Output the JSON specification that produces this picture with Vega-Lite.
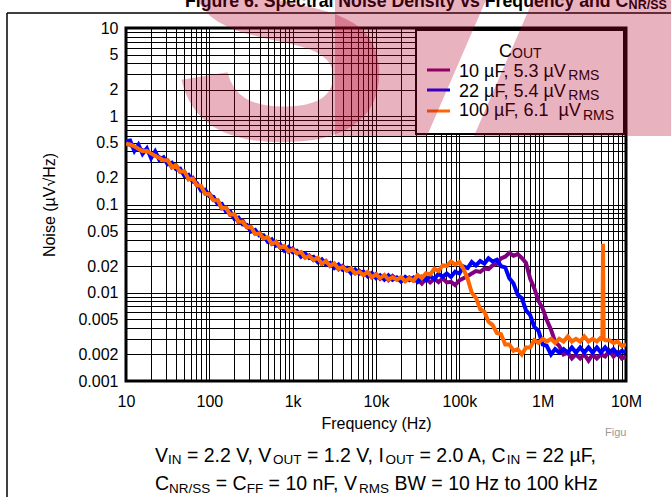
{
"$schema":"https://vega.github.io/schema/vega-lite/v6.json",
"width":500,"height":353,
"autosize":{"type":"none"},
"padding":{"left":126,"top":28,"right":45,"bottom":116},
"background":"white",
"config":{"view":{"stroke":"#000","strokeWidth":3},"font":"Liberation Sans"},
"datasets":{
"p":[{"f":10,"v":0.49},{"f":11.2,"v":0.475},{"f":12.6,"v":0.443},{"f":14.1,"v":0.423},{"f":15.8,"v":0.413},{"f":17.8,"v":0.407},{"f":20,"v":0.367},{"f":22.4,"v":0.361},{"f":25.1,"v":0.343},{"f":28.2,"v":0.317},
{"f":31.6,"v":0.315},{"f":35.5,"v":0.263},{"f":39.8,"v":0.278},{"f":44.7,"v":0.233},{"f":50.1,"v":0.232},{"f":56.2,"v":0.193},{"f":63.1,"v":0.201},{"f":70.8,"v":0.165},{"f":79.4,"v":0.158},{"f":89.1,"v":0.133},
{"f":100,"v":0.133},{"f":112,"v":0.112},{"f":126,"v":0.111},{"f":141,"v":0.0902},{"f":158,"v":0.0924},{"f":178,"v":0.076},{"f":200,"v":0.0752},{"f":224,"v":0.063},{"f":251,"v":0.0657},{"f":282,"v":0.0553},
{"f":316,"v":0.0541},{"f":355,"v":0.0466},{"f":398,"v":0.0478},{"f":447,"v":0.0413},{"f":501,"v":0.042},{"f":562,"v":0.0357},{"f":631,"v":0.0378},{"f":708,"v":0.0323},{"f":794,"v":0.033},{"f":891,"v":0.0291},
{"f":1000,"v":0.0318},{"f":1120,"v":0.0281},{"f":1260,"v":0.0281},{"f":1410,"v":0.0252},{"f":1580,"v":0.0265},{"f":1780,"v":0.0235},{"f":2000,"v":0.0247},{"f":2240,"v":0.0212},{"f":2510,"v":0.0229},{"f":2820,"v":0.02},
{"f":3160,"v":0.0209},{"f":3550,"v":0.0185},{"f":3980,"v":0.0201},{"f":4470,"v":0.0179},{"f":5010,"v":0.0184},{"f":5620,"v":0.0166},{"f":6310,"v":0.0177},{"f":7080,"v":0.0159},{"f":7940,"v":0.017},{"f":8910,"v":0.0149},
{"f":10000,"v":0.0163},{"f":11200,"v":0.0144},{"f":12600,"v":0.0155},{"f":14100,"v":0.0139},{"f":15800,"v":0.0155},{"f":17800,"v":0.0141},{"f":20000,"v":0.0147},{"f":22400,"v":0.0137},{"f":25100,"v":0.0149},{"f":28200,"v":0.0137},
{"f":31600,"v":0.0142},{"f":35500,"v":0.0127},{"f":39800,"v":0.0144},{"f":44700,"v":0.0131},{"f":50100,"v":0.0144},{"f":56200,"v":0.0132},{"f":63100,"v":0.0146},{"f":70800,"v":0.0131},{"f":79400,"v":0.0133},{"f":89100,"v":0.0122},
{"f":100000,"v":0.0138},{"f":112000,"v":0.0146},{"f":126000,"v":0.0155},{"f":141000,"v":0.0165},{"f":158000,"v":0.0176},{"f":178000,"v":0.0172},{"f":200000,"v":0.0188},{"f":224000,"v":0.0185},{"f":251000,"v":0.0205},{"f":282000,"v":0.0213},
{"f":316000,"v":0.0245},{"f":355000,"v":0.0256},{"f":398000,"v":0.0283},{"f":447000,"v":0.0262},{"f":501000,"v":0.0274},{"f":562000,"v":0.0248},{"f":631000,"v":0.0218},{"f":708000,"v":0.0145},{"f":794000,"v":0.0112},{"f":891000,"v":0.0081},
{"f":1000000,"v":0.0066},{"f":1120000,"v":0.0049},{"f":1260000,"v":0.0038},{"f":1410000,"v":0.0028},{"f":1580000,"v":0.0025},{"f":1780000,"v":0.002},{"f":2000000,"v":0.0021},{"f":2240000,"v":0.0018},{"f":2510000,"v":0.002},{"f":2820000,"v":0.0018},
{"f":3160000,"v":0.002},{"f":3550000,"v":0.0017},{"f":3980000,"v":0.002},{"f":4470000,"v":0.0018},{"f":5010000,"v":0.002},{"f":5620000,"v":0.0019},{"f":6310000,"v":0.0022},{"f":7080000,"v":0.0019},{"f":7940000,"v":0.0021},{"f":8910000,"v":0.0018},
{"f":10000000,"v":0.0019}],
"b":[{"f":10,"v":0.52},{"f":11.2,"v":0.53},{"f":12.6,"v":0.404},{"f":14.1,"v":0.477},{"f":15.8,"v":0.374},{"f":17.8,"v":0.433},{"f":20,"v":0.335},{"f":22.4,"v":0.399},{"f":25.1,"v":0.32},{"f":28.2,"v":0.343},
{"f":31.6,"v":0.285},{"f":35.5,"v":0.297},{"f":39.8,"v":0.252},{"f":44.7,"v":0.255},{"f":50.1,"v":0.212},{"f":56.2,"v":0.217},{"f":63.1,"v":0.182},{"f":70.8,"v":0.175},{"f":79.4,"v":0.144},{"f":89.1,"v":0.147},
{"f":100,"v":0.124},{"f":112,"v":0.122},{"f":126,"v":0.101},{"f":141,"v":0.102},{"f":158,"v":0.0836},{"f":178,"v":0.0832},{"f":200,"v":0.0686},{"f":224,"v":0.071},{"f":251,"v":0.0595},{"f":282,"v":0.0587},
{"f":316,"v":0.0493},{"f":355,"v":0.0515},{"f":398,"v":0.0446},{"f":447,"v":0.0447},{"f":501,"v":0.038},{"f":562,"v":0.0403},{"f":631,"v":0.0342},{"f":708,"v":0.0354},{"f":794,"v":0.0301},{"f":891,"v":0.0329},
{"f":1000,"v":0.0288},{"f":1120,"v":0.0299},{"f":1260,"v":0.0256},{"f":1410,"v":0.0278},{"f":1580,"v":0.0247},{"f":1780,"v":0.0255},{"f":2000,"v":0.0223},{"f":2240,"v":0.0239},{"f":2510,"v":0.0207},{"f":2820,"v":0.0218},
{"f":3160,"v":0.0191},{"f":3550,"v":0.0209},{"f":3980,"v":0.0182},{"f":4470,"v":0.0191},{"f":5010,"v":0.0167},{"f":5620,"v":0.0184},{"f":6310,"v":0.0165},{"f":7080,"v":0.0173},{"f":7940,"v":0.0154},{"f":8910,"v":0.0167},
{"f":10000,"v":0.0147},{"f":11200,"v":0.0158},{"f":12600,"v":0.0141},{"f":14100,"v":0.0157},{"f":15800,"v":0.014},{"f":17800,"v":0.0149},{"f":20000,"v":0.0134},{"f":22400,"v":0.0151},{"f":25100,"v":0.0139},{"f":28200,"v":0.0149},
{"f":31600,"v":0.0133},{"f":35500,"v":0.0151},{"f":39800,"v":0.0138},{"f":44700,"v":0.0154},{"f":50100,"v":0.0143},{"f":56200,"v":0.0164},{"f":63100,"v":0.0152},{"f":70800,"v":0.0165},{"f":79400,"v":0.0151},{"f":89100,"v":0.0173},
{"f":100000,"v":0.0165},{"f":112000,"v":0.0198},{"f":126000,"v":0.019},{"f":141000,"v":0.0223},{"f":158000,"v":0.0204},{"f":178000,"v":0.0229},{"f":200000,"v":0.0214},{"f":224000,"v":0.0246},{"f":251000,"v":0.0226},{"f":282000,"v":0.0237},
{"f":316000,"v":0.02},{"f":355000,"v":0.0194},{"f":398000,"v":0.0146},{"f":447000,"v":0.0127},{"f":501000,"v":0.0095},{"f":562000,"v":0.0087},{"f":631000,"v":0.0063},{"f":708000,"v":0.0056},{"f":794000,"v":0.0041},{"f":891000,"v":0.0037},
{"f":1000000,"v":0.0026},{"f":1120000,"v":0.0025},{"f":1260000,"v":0.002},{"f":1410000,"v":0.0023},{"f":1580000,"v":0.0021},{"f":1780000,"v":0.0023},{"f":2000000,"v":0.0021},{"f":2240000,"v":0.0024},{"f":2510000,"v":0.0021},{"f":2820000,"v":0.0024},
{"f":3160000,"v":0.0021},{"f":3550000,"v":0.0024},{"f":3980000,"v":0.0021},{"f":4470000,"v":0.0024},{"f":5010000,"v":0.0021},{"f":5620000,"v":0.0024},{"f":6310000,"v":0.0021},{"f":7080000,"v":0.0023},{"f":7940000,"v":0.002},{"f":8910000,"v":0.0022},
{"f":10000000,"v":0.0021}],
"o":[{"f":10,"v":0.489},{"f":11.2,"v":0.48},{"f":12.6,"v":0.456},{"f":14.1,"v":0.428},{"f":15.8,"v":0.402},{"f":17.8,"v":0.407},{"f":20,"v":0.378},{"f":22.4,"v":0.357},{"f":25.1,"v":0.337},{"f":28.2,"v":0.317},
{"f":31.6,"v":0.318},{"f":35.5,"v":0.266},{"f":39.8,"v":0.276},{"f":44.7,"v":0.235},{"f":50.1,"v":0.239},{"f":56.2,"v":0.195},{"f":63.1,"v":0.196},{"f":70.8,"v":0.165},{"f":79.4,"v":0.163},{"f":89.1,"v":0.132},
{"f":100,"v":0.131},{"f":112,"v":0.112},{"f":126,"v":0.112},{"f":141,"v":0.0912},{"f":158,"v":0.0915},{"f":178,"v":0.0768},{"f":200,"v":0.0774},{"f":224,"v":0.0637},{"f":251,"v":0.0639},{"f":282,"v":0.0553},
{"f":316,"v":0.0557},{"f":355,"v":0.0461},{"f":398,"v":0.0469},{"f":447,"v":0.0413},{"f":501,"v":0.0424},{"f":562,"v":0.0361},{"f":631,"v":0.0374},{"f":708,"v":0.0326},{"f":794,"v":0.0339},{"f":891,"v":0.0295},
{"f":1000,"v":0.0309},{"f":1120,"v":0.0281},{"f":1260,"v":0.0289},{"f":1410,"v":0.0249},{"f":1580,"v":0.026},{"f":1780,"v":0.0235},{"f":2000,"v":0.0249},{"f":2240,"v":0.0214},{"f":2510,"v":0.0227},{"f":2820,"v":0.0202},
{"f":3160,"v":0.0215},{"f":3550,"v":0.0187},{"f":3980,"v":0.0196},{"f":4470,"v":0.0179},{"f":5010,"v":0.0189},{"f":5620,"v":0.0165},{"f":6310,"v":0.0173},{"f":7080,"v":0.0159},{"f":7940,"v":0.0172},{"f":8910,"v":0.015},
{"f":10000,"v":0.0161},{"f":11200,"v":0.0146},{"f":12600,"v":0.0159},{"f":14100,"v":0.0141},{"f":15800,"v":0.015},{"f":17800,"v":0.0141},{"f":20000,"v":0.0151},{"f":22400,"v":0.0135},{"f":25100,"v":0.0146},{"f":28200,"v":0.0137},
{"f":31600,"v":0.0159},{"f":35500,"v":0.0147},{"f":39800,"v":0.0166},{"f":44700,"v":0.0161},{"f":50100,"v":0.0187},{"f":56200,"v":0.0177},{"f":63100,"v":0.0204},{"f":70800,"v":0.0202},{"f":79400,"v":0.0227},{"f":89100,"v":0.0209},
{"f":100000,"v":0.0222},{"f":112000,"v":0.0187},{"f":126000,"v":0.0143},{"f":141000,"v":0.01},{"f":158000,"v":0.0088},{"f":178000,"v":0.0065},{"f":200000,"v":0.0061},{"f":224000,"v":0.0047},{"f":251000,"v":0.0043},{"f":282000,"v":0.0035},
{"f":316000,"v":0.0034},{"f":355000,"v":0.0026},{"f":398000,"v":0.0026},{"f":447000,"v":0.0022},{"f":501000,"v":0.0023},{"f":562000,"v":0.002},{"f":631000,"v":0.0024},{"f":708000,"v":0.0024},{"f":794000,"v":0.0029},{"f":891000,"v":0.0027},
{"f":1000000,"v":0.003},{"f":1120000,"v":0.0028},{"f":1260000,"v":0.003},{"f":1410000,"v":0.0027},{"f":1580000,"v":0.003},{"f":1780000,"v":0.0028},{"f":2000000,"v":0.0032},{"f":2240000,"v":0.0028},{"f":2510000,"v":0.003},{"f":2820000,"v":0.0028},
{"f":3160000,"v":0.0032},{"f":3550000,"v":0.0028},{"f":3980000,"v":0.003},{"f":4470000,"v":0.0028},{"f":5010000,"v":0.0031},{"f":5200000,"v":0.0029},{"f":5300000,"v":0.036},{"f":5400000,"v":0.003},{"f":5620000,"v":0.0029},{"f":6310000,"v":0.0029},{"f":7080000,"v":0.0027},{"f":7940000,"v":0.0028},{"f":8910000,"v":0.0025},
{"f":10000000,"v":0.0026}]
},
"encoding":{
"x":{"field":"f","type":"quantitative","scale":{"type":"log","domain":[10,10000000],"nice":false,"zero":false},
"axis":{"values":[10,20,30,40,50,60,70,80,90,100,200,300,400,500,600,700,800,900,1000,2000,3000,4000,5000,6000,7000,8000,9000,10000,20000,30000,40000,50000,60000,70000,80000,90000,100000,200000,300000,400000,500000,600000,700000,800000,900000,1000000,2000000,3000000,4000000,5000000,6000000,7000000,8000000,9000000,10000000],
"grid":true,"gridColor":"#000","gridWidth":1,"gridOpacity":1,"ticks":false,"tickSize":0,"domain":false,
"labelExpr":"datum.value==10?'10':datum.value==100?'100':datum.value==1000?'1k':datum.value==10000?'10k':datum.value==100000?'100k':datum.value==1000000?'1M':datum.value==10000000?'10M':''",
"labelFont":"Liberation Sans","labelFontSize":16,"labelColor":"#000","labelPadding":12,"labelOverlap":false,"labelFlush":false,
"title":"Frequency (Hz)","titleFont":"Liberation Sans","titleFontSize":16,"titleFontWeight":"normal","titleColor":"#000","titlePadding":6}},
"y":{"field":"v","type":"quantitative","scale":{"type":"log","domain":[0.001,10],"nice":false,"zero":false},
"axis":{"values":[0.001,0.002,0.003,0.004,0.005,0.006,0.007,0.008,0.009,0.01,0.02,0.03,0.04,0.05,0.06,0.07,0.08,0.09,0.1,0.2,0.3,0.4,0.5,0.6,0.7,0.8,0.9,1,2,3,4,5,6,7,8,9,10],
"grid":true,"gridColor":"#000","gridWidth":1,"gridOpacity":1,"ticks":false,"tickSize":0,"domain":false,"format":"~g",
"labelExpr":"indexof([10,5,2,1,0.5,0.2,0.1,0.05,0.02,0.01,0.005,0.002,0.001], datum.value) >= 0 ? datum.label : ''",
"labelFont":"Liberation Sans","labelFontSize":16,"labelColor":"#000","labelPadding":8,"labelOverlap":false,"labelFlush":false,
"title":"Noise (µV√Hz)","titleFont":"Liberation Sans","titleFontSize":16,"titleFontWeight":"normal","titleColor":"#000","titlePadding":20}}
},
"layer":[
{"data":{"name":"p"},"mark":{"type":"line","color":"#800080","strokeWidth":4,"clip":true}},
{"data":{"name":"b"},"mark":{"type":"line","color":"#0000ff","strokeWidth":4,"clip":true}},
{"data":{"name":"o"},"mark":{"type":"line","color":"#ff6600","strokeWidth":4,"clip":true}},
{"data":{"values":[{"f":30200,"v":9.49,"f2":9460000,"v2":0.629}]},"mark":{"type":"rect","fill":"white","stroke":"#000","strokeWidth":2},"encoding":{"x2":{"field":"f2"},"y2":{"field":"v2"}}},
{"data":{"values":[{"f":40930,"f2":77270,"v":3.344,"s":"10 µF"},{"f":40930,"f2":77270,"v":1.984,"s":"22 µF"},{"f":40930,"f2":77270,"v":1.147,"s":"100 µF"}]},
 "mark":{"type":"rule","strokeWidth":3},"encoding":{"x2":{"field":"f2"},"color":{"field":"s","type":"nominal","scale":{"domain":["10 µF","22 µF","100 µF"],"range":["#800080","#0000ff","#ff6600"]},"legend":null}}},
{"data":{"values":[{"f":299200,"v":4.692,"t":"C"},{"f":99080,"v":2.785,"t":"10 µF, 5.3 µV"},{"f":99080,"v":1.674,"t":"22 µF, 5.4 µV"},{"f":99080,"v":0.9935,"t":"100 µF, 6.1\u00a0\u00a0µV"}]},
 "mark":{"type":"text","align":"left","baseline":"alphabetic","fontSize":18,"font":"Liberation Sans","color":"#000"},"encoding":{"text":{"field":"t"}}},
{"data":{"values":[{"f":428500,"v":4.571,"t":"OUT"},{"f":2031000,"v":2.542,"t":"RMS"},{"f":2031000,"v":1.528,"t":"RMS"},{"f":3048000,"v":0.9068,"t":"RMS"}]},
 "mark":{"type":"text","align":"left","baseline":"alphabetic","fontSize":14,"font":"Liberation Sans","color":"#000"},"encoding":{"text":{"field":"t"}}},
{"data":{"values":[{"f":22.28,"v":0.0001208,"t":"V"},{"f":53.8,"v":0.0001208,"t":"= 2.2 V, V"},{"f":1486,"v":0.0001208,"t":"= 1.2 V, I"},{"f":33270,"v":0.0001208,"t":"= 2.0 A, C"},{"f":625700,"v":0.0001208,"t":"= 22 µF,"},
{"f":22.28,"v":0.0000582,"t":"C"},{"f":119.56,"v":0.0000582,"t":"= C"},{"f":514.2,"v":0.0000582,"t":"= 10 nF, V"},{"f":16670,"v":0.0000582,"t":"BW = 10 Hz to 100 kHz"}]},
 "mark":{"type":"text","align":"left","baseline":"alphabetic","fontSize":19.5,"font":"Liberation Sans","color":"#000"},"encoding":{"text":{"field":"t"}}},
{"data":{"values":[{"f":31.92,"v":0.0001132,"t":"IN"},{"f":582.4,"v":0.0001132,"t":"OUT"},{"f":13040,"v":0.0001132,"t":"OUT"},{"f":371100,"v":0.0001132,"t":"IN"},
{"f":32.9,"v":0.00005451,"t":"NR/SS"},{"f":280.8,"v":0.00005451,"t":"FF"},{"f":6269,"v":0.00005451,"t":"RMS"}]},
 "mark":{"type":"text","align":"left","baseline":"alphabetic","fontSize":13.5,"font":"Liberation Sans","color":"#000"},"encoding":{"text":{"field":"t"}}},
{"data":{"values":[{"f":51.05,"v":17.3,"t":"Figure 6. Spectral Noise Density vs Frequency and C"}]},
 "mark":{"type":"text","align":"left","baseline":"alphabetic","fontSize":17.7,"fontWeight":"bold","font":"Liberation Sans","color":"#000"},"encoding":{"text":{"field":"t"}}},
{"data":{"values":[{"f":10745000,"v":16.42,"t":"NR/SS"}]},
 "mark":{"type":"text","align":"left","baseline":"alphabetic","fontSize":12.5,"fontWeight":"bold","font":"Liberation Sans","color":"#000"},"encoding":{"text":{"field":"t"}}},
{"data":{"values":[{"f":5598000,"v":0.0002382,"t":"Figu"}]},
 "mark":{"type":"text","align":"left","baseline":"alphabetic","fontSize":11,"font":"Liberation Sans","color":"#999"},"encoding":{"text":{"field":"t"}}},
{"data":{"values":[{"f":0.3733,"v":14.79,"f2":34670000,"v2":14.79},{"f":0.3733,"v":14.79,"f2":0.3733,"v2":0.00004847}]},
 "mark":{"type":"rule","color":"#000","strokeWidth":1.5},"encoding":{"x2":{"field":"f2"},"y2":{"field":"v2"}}},
{"data":{"values":[{"f":35.65,"v":0.5525,"t":"S"}]},
 "mark":{"type":"text","align":"left","baseline":"alphabetic","fontSize":330,"fontWeight":"bold","font":"Liberation Sans","color":"#b40028","opacity":0.3},"encoding":{"text":{"field":"t"}}},
{"data":{"values":[{"v":20.76,"f":3221,"f2":208900},{"v":0.5974,"f":3221,"f2":40930}]},
 "mark":{"type":"area","orient":"horizontal","color":"#b40028","opacity":0.3,"clip":false},"encoding":{"x2":{"field":"f2"}}},
{"data":{"values":[{"v":20.76,"f":765600,"f2":34670000},{"v":0.5974,"f":150000,"f2":34670000}]},
 "mark":{"type":"area","orient":"horizontal","color":"#b40028","opacity":0.3,"clip":false},"encoding":{"x2":{"field":"f2"}}}
]
}
